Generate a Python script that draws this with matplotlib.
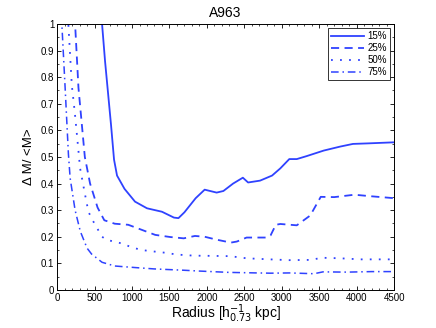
from matplotlib import pyplot as plt
from matplotlib.ticker import MultipleLocator, FuncFormatter

# ---- data ----
r15 = [590, 600, 640, 680, 720, 760, 800, 900, 1040, 1200, 1400, 1560, 1620,
       1700, 1850, 1970, 2130, 2220, 2350, 2480, 2550, 2710, 2870, 2980, 3100,
       3200, 3330, 3560, 3780, 3950, 4150, 4500]
m15 = [1.03, 1.0, 0.86, 0.74, 0.62, 0.49, 0.43, 0.38, 0.332, 0.307, 0.294,
       0.272, 0.27, 0.292, 0.345, 0.377, 0.366, 0.372, 0.40, 0.422, 0.404,
       0.411, 0.43, 0.457, 0.492, 0.492, 0.503, 0.524, 0.539, 0.549, 0.551, 0.555]

r25 = [235, 240, 285, 370, 440, 540, 630, 770, 950, 1130, 1310, 1510, 1690,
       1840, 1970, 2130, 2320, 2400, 2530, 2800, 2850, 2920, 2980, 3200, 3380,
       3520, 3700, 3970, 4200, 4500]
m25 = [1.03, 1.0, 0.76, 0.50, 0.40, 0.31, 0.262, 0.249, 0.245, 0.226, 0.207,
       0.199, 0.194, 0.203, 0.20, 0.189, 0.178, 0.182, 0.197, 0.197, 0.205,
       0.245, 0.248, 0.243, 0.28, 0.35, 0.349, 0.358, 0.352, 0.345]

r50 = [145, 150, 196, 235, 267, 307, 374, 418, 472, 543, 600, 663, 760, 860,
       1000, 1130, 1310, 1440, 1600, 1820, 2090, 2310, 2530, 2840, 3100, 3380,
       3540, 3780, 4050, 4450]
m50 = [1.03, 1.0, 0.77, 0.67, 0.576, 0.457, 0.357, 0.294, 0.263, 0.228, 0.20,
       0.188, 0.182, 0.175, 0.16, 0.15, 0.144, 0.14, 0.133, 0.129, 0.128, 0.127,
       0.119, 0.115, 0.112, 0.113, 0.121, 0.119, 0.115, 0.115]

r75 = [58, 63, 107, 151, 174, 240, 310, 400, 460, 600, 770, 1050, 1300, 1700,
       1900, 2300, 2850, 3100, 3430, 3550, 3870, 4200, 4500]
m75 = [1.03, 1.0, 0.76, 0.51, 0.42, 0.30, 0.22, 0.157, 0.135, 0.104, 0.09,
       0.084, 0.079, 0.074, 0.071, 0.066, 0.063, 0.064, 0.061, 0.068, 0.067,
       0.069, 0.069]

labels = ['15%', '25%', '50%', '75%']

plt.rcParams['font.family'] = ['Liberation Sans', 'DejaVu Sans']
blue = '#2f42ff'

fig = plt.figure(figsize=(4.36, 3.28), dpi=100)
ax = fig.add_axes([0.131, 0.116, 0.773, 0.811])

ax.plot(r15, m15, '-', color=blue, lw=1.3, label=labels[0])
ax.plot(r25, m25, color=blue, lw=1.3, linestyle=(0, (4.5, 3)), label=labels[1])
ax.plot(r50, m50, color=blue, lw=1.3, linestyle=(0, (1, 4)), label=labels[2])
ax.plot(r75, m75, color=blue, lw=1.1, linestyle=(0, (5, 2.5, 1, 2.5)), label=labels[3])

ax.set_xlim(0, 4500)
ax.set_ylim(0, 1)
ax.xaxis.set_major_locator(MultipleLocator(500))
ax.xaxis.set_minor_locator(MultipleLocator(100))
ax.yaxis.set_major_locator(MultipleLocator(0.1))
ax.yaxis.set_minor_locator(MultipleLocator(0.05))
ax.yaxis.set_major_formatter(FuncFormatter(lambda v, p: '%g' % round(v, 2)))
ax.tick_params(which='both', direction='in', top=True, right=True, labelsize=7, pad=2)
ax.tick_params(which='major', length=3, width=0.6)
ax.tick_params(which='minor', length=1.5, width=0.5)
for s in ax.spines.values():
    s.set_linewidth(0.7)

ax.set_title('A963', fontsize=10, pad=5)
ax.set_xlabel(r'Radius [h$_{0.73}^{-1}$ kpc]', fontsize=10, labelpad=0)
ax.set_ylabel(u'\u0394 M/ <M>', fontsize=9.5, labelpad=4)

leg = ax.legend(loc='upper right', fontsize=7, frameon=True, fancybox=False,
                edgecolor='black', handlelength=3.4, borderpad=0.35,
                labelspacing=0.2, handletextpad=0.3, borderaxespad=0.4)
leg.get_frame().set_linewidth(0.7)

fig.savefig('out.png', dpi=100)
